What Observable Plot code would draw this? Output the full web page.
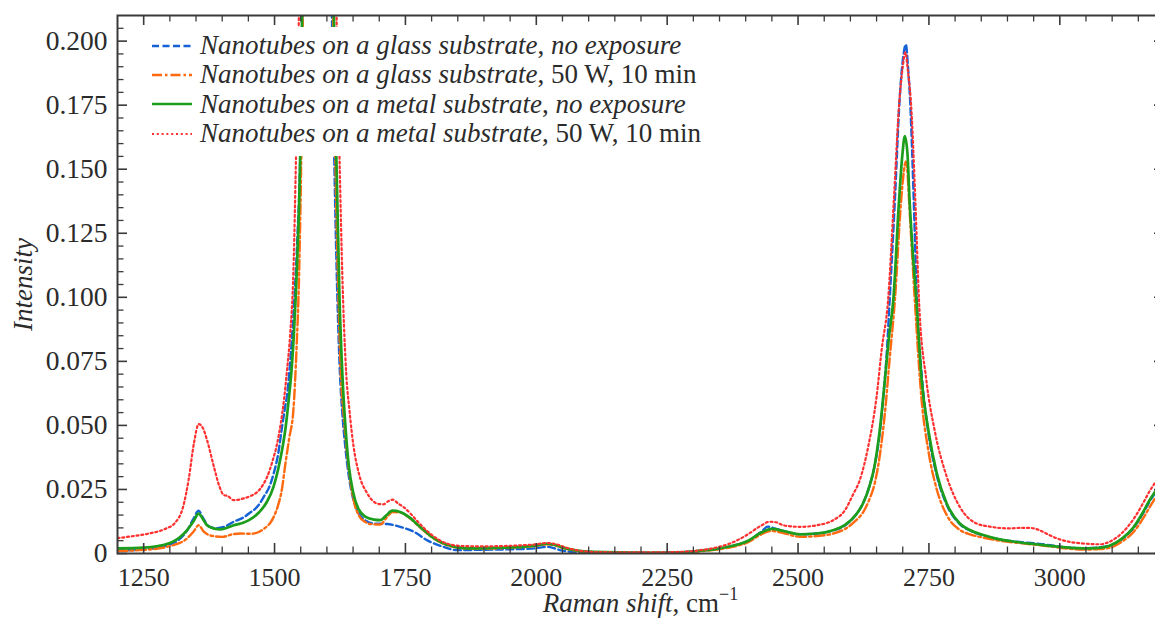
<!DOCTYPE html>
<html><head><meta charset="utf-8">
<script src="https://cdn.jsdelivr.net/npm/d3@7"></script>
<script src="https://cdn.jsdelivr.net/npm/@observablehq/plot@0.6"></script>
<style>
html,body{margin:0;padding:0;background:#fff;overflow:hidden;}
#wrap{position:relative;width:1155px;height:624px;overflow:hidden;font-family:'Liberation Serif','Tinos','Nimbus Roman','Times New Roman','DejaVu Serif',serif;color:#2b2b2b;}
#legend{position:absolute;left:146px;top:27px;background:#fff;padding:4px 10px 8px 6px;}
.row{height:29.3px;display:flex;align-items:center;font-size:27px;white-space:nowrap;line-height:1;}
.row svg{width:40px;height:10px;margin-right:8px;flex:none;}
#xlabel{position:absolute;top:590px;left:0;width:1281px;text-align:center;font-size:27px;line-height:1;white-space:nowrap;}
#xlabel sup{font-size:18px;vertical-align:12px;line-height:0;}
#chart svg text{font-family:'Liberation Serif','Tinos','Nimbus Roman','Times New Roman','DejaVu Serif',serif;}
</style></head>
<body><div id="wrap"><div id="chart"></div>
<div id="legend"></div>
<div id="xlabel"><i>Raman shift</i>, cm<sup>−1</sup></div>
</div>
<script>
// ---- data ----
const glassNoExpX = [1200,1250,1300,1333,1345,1355,1363,1375,1390,1405,1422,1440,1451,1470,1479,1490,1498,1507,1514,1520,1524,1531,1538,1544,1549,1555,1583,1607,1614,1620,1625,1629,1635,1642,1650,1660,1670,1689,1715,1740,1766,1791,1823,1848,1880,1940,1990,2010,2022,2035,2050,2080,2200,2270,2310,2345,2375,2405,2430,2442,2455,2472,2504,2535,2567,2590,2610,2624,2636,2646,2656,2664,2670,2675,2685,2694,2701,2706,2710,2714,2721,2727,2737,2749,2765,2784,2809,2830,2854,2885,2917,2950,2981,3010,3045,3075,3095,3120,3140,3160,3172,3185,3200];
const glassNoExpY = [0.0012,0.0016,0.0035,0.0090,0.0135,0.0167,0.0140,0.0105,0.0099,0.0105,0.0124,0.0140,0.0156,0.0190,0.0220,0.0260,0.0310,0.0390,0.0490,0.0570,0.0620,0.0780,0.1000,0.1250,0.1550,0.2500,0.9000,0.2500,0.1550,0.1000,0.0700,0.0560,0.0420,0.0300,0.0215,0.0160,0.0135,0.0117,0.0115,0.0104,0.0085,0.0052,0.0026,0.0013,0.0014,0.0016,0.0019,0.0024,0.0026,0.0020,0.0011,0.0006,0.0003,0.0004,0.0010,0.0018,0.0030,0.0050,0.0085,0.0105,0.0098,0.0088,0.0075,0.0078,0.0090,0.0110,0.0150,0.0195,0.0260,0.0340,0.0470,0.0640,0.0800,0.0990,0.1380,0.1772,0.1940,0.1987,0.1900,0.1772,0.1380,0.0990,0.0680,0.0470,0.0305,0.0190,0.0115,0.0088,0.0070,0.0055,0.0046,0.0040,0.0032,0.0024,0.0021,0.0024,0.0030,0.0058,0.0098,0.0160,0.0205,0.0245,0.0295];

const glass50WX = [1200,1250,1300,1333,1345,1355,1365,1378,1400,1420,1435,1455,1470,1482,1492,1500,1507,1514,1520,1528,1536,1542,1547,1551,1556,1583,1609,1616,1622,1627,1632,1638,1645,1652,1662,1672,1683,1702,1714,1725,1740,1755,1778,1800,1820,1845,1875,1920,1960,2000,2020,2035,2050,2075,2110,2200,2270,2310,2345,2375,2405,2430,2450,2472,2504,2535,2567,2590,2610,2624,2636,2646,2656,2666,2675,2685,2697,2702,2706,2709,2712,2717,2723,2736,2749,2765,2784,2809,2830,2854,2885,2917,2950,2981,3010,3045,3075,3095,3120,3140,3160,3172,3185,3200];
const glass50WY = [0.0010,0.0014,0.0029,0.0059,0.0085,0.0110,0.0085,0.0070,0.0065,0.0075,0.0078,0.0077,0.0084,0.0100,0.0120,0.0150,0.0190,0.0250,0.0340,0.0450,0.0560,0.0800,0.1100,0.1550,0.2500,0.9000,0.2500,0.1550,0.1000,0.0680,0.0540,0.0400,0.0280,0.0200,0.0145,0.0125,0.0115,0.0113,0.0140,0.0162,0.0160,0.0143,0.0102,0.0064,0.0040,0.0024,0.0019,0.0020,0.0023,0.0030,0.0036,0.0032,0.0022,0.0011,0.0005,0.0002,0.0003,0.0008,0.0015,0.0026,0.0044,0.0075,0.0088,0.0080,0.0065,0.0068,0.0078,0.0096,0.0128,0.0160,0.0210,0.0270,0.0380,0.0550,0.0760,0.0990,0.1380,0.1490,0.1530,0.1490,0.1380,0.1200,0.0990,0.0600,0.0400,0.0250,0.0150,0.0092,0.0074,0.0062,0.0050,0.0042,0.0035,0.0028,0.0020,0.0015,0.0017,0.0022,0.0048,0.0082,0.0140,0.0182,0.0225,0.0275];

const metalNoExpX = [1200,1250,1300,1333,1345,1355,1363,1371,1385,1397,1422,1440,1451,1470,1485,1498,1507,1514,1521,1527,1533,1537,1543,1549,1555,1583,1610,1618,1624,1630,1636,1642,1650,1660,1675,1690,1702,1713,1725,1740,1755,1778,1800,1820,1845,1875,1920,1960,2000,2020,2035,2050,2075,2110,2200,2270,2310,2345,2375,2405,2430,2450,2472,2504,2535,2567,2590,2610,2624,2636,2646,2656,2666,2674,2682,2693,2699,2704,2709,2713,2720,2726,2736,2749,2765,2784,2809,2830,2854,2885,2917,2950,2981,3010,3045,3075,3095,3120,3140,3160,3172,3185,3200];
const metalNoExpY = [0.0020,0.0023,0.0041,0.0091,0.0125,0.0156,0.0135,0.0110,0.0097,0.0094,0.0110,0.0120,0.0130,0.0160,0.0200,0.0260,0.0330,0.0400,0.0490,0.0600,0.0730,0.0860,0.1130,0.1550,0.2500,0.9000,0.2500,0.1550,0.1000,0.0680,0.0480,0.0340,0.0240,0.0175,0.0142,0.0132,0.0130,0.0148,0.0167,0.0162,0.0145,0.0104,0.0066,0.0042,0.0026,0.0020,0.0022,0.0025,0.0032,0.0038,0.0034,0.0024,0.0012,0.0006,0.0003,0.0004,0.0010,0.0018,0.0030,0.0050,0.0082,0.0096,0.0088,0.0075,0.0078,0.0091,0.0112,0.0150,0.0195,0.0260,0.0340,0.0480,0.0680,0.0850,0.0990,0.1380,0.1550,0.1629,0.1560,0.1380,0.1150,0.0990,0.0680,0.0480,0.0313,0.0195,0.0117,0.0090,0.0072,0.0055,0.0045,0.0037,0.0030,0.0024,0.0020,0.0022,0.0030,0.0060,0.0100,0.0165,0.0210,0.0250,0.0300];

const metal50WX = [1200,1230,1260,1290,1310,1325,1336,1346,1355,1363,1371,1384,1395,1403,1410,1422,1441,1455,1467,1477,1486,1496,1505,1512,1518,1524,1530,1536,1541,1550,1583,1615,1624,1630,1637,1643,1651,1661,1677,1696,1708,1718,1726,1736,1746,1760,1771,1797,1829,1860,1900,1950,2000,2020,2040,2055,2080,2110,2200,2270,2310,2345,2370,2402,2428,2446,2458,2472,2504,2535,2567,2590,2605,2618,2634,2650,2660,2672,2683,2693,2700,2705,2710,2716,2724,2731,2745,2761,2784,2809,2841,2866,2904,2925,2943,2960,2980,3000,3020,3045,3077,3095,3109,3130,3146,3160,3172,3185,3200];
const metal50WY = [0.0060,0.0068,0.0078,0.0095,0.0120,0.0180,0.0290,0.0430,0.0505,0.0490,0.0443,0.0340,0.0260,0.0228,0.0225,0.0208,0.0215,0.0225,0.0240,0.0265,0.0300,0.0360,0.0430,0.0510,0.0600,0.0720,0.0860,0.1100,0.1550,0.2500,0.9000,0.2500,0.1550,0.1050,0.0700,0.0560,0.0417,0.0313,0.0235,0.0195,0.0192,0.0205,0.0210,0.0195,0.0182,0.0155,0.0130,0.0078,0.0039,0.0029,0.0028,0.0030,0.0036,0.0041,0.0035,0.0024,0.0012,0.0006,0.0004,0.0006,0.0012,0.0024,0.0039,0.0072,0.0107,0.0124,0.0122,0.0110,0.0104,0.0110,0.0130,0.0170,0.0230,0.0287,0.0417,0.0612,0.0800,0.0990,0.1380,0.1750,0.1900,0.1956,0.1880,0.1750,0.1380,0.0990,0.0678,0.0480,0.0300,0.0182,0.0117,0.0105,0.0098,0.0100,0.0100,0.0092,0.0072,0.0055,0.0045,0.0039,0.0036,0.0046,0.0063,0.0105,0.0150,0.0200,0.0245,0.0285,0.0335];

const seriesNames = [
  ["Nanotubes on a glass substrate", "no exposure", true],
  ["Nanotubes on a glass substrate", "50 W, 10 min", false],
  ["Nanotubes on a metal substrate", "no exposure", true],
  ["Nanotubes on a metal substrate", "50 W, 10 min", false]
];
const xMajorTicks = [1250,1500,1750,2000,2250,2500,2750,3000];
const yMajorTicks = [0,0.025,0.05,0.075,0.1,0.125,0.15,0.175,0.2];
const xMinorTicks = d3.range(1250,3200,50).filter(v => v % 250 !== 0);
const yMinorTicks = d3.range(1,42).map(i => i*0.005).filter((v,i) => (i+1) % 5 !== 0);

// ---- styles ----
const serif = "'Liberation Serif','Tinos','Nimbus Roman','Times New Roman','DejaVu Serif',serif";
const styles = [
  {stroke:"#1562d6", dash:"7,3.5", w:2.4},
  {stroke:"#ff6a10", dash:"10,3,2.5,3", w:2.4},
  {stroke:"#1c9e1c", dash:null, w:2.7},
  {stroke:"#ff3030", dash:"2,2.8", w:2.2}
];
const seriesData = [
  [glassNoExpX, glassNoExpY],
  [glass50WX, glass50WY],
  [metalNoExpX, metalNoExpY],
  [metal50WX, metal50WY]
].map(([xs, ys]) => xs.map((x, i) => ({x, y: ys[i]})));

const W = 1166, H = 624, mL = 117, mR = 2, mT = 15, mB = 71;
const innerW = W - mL - mR, innerH = H - mT - mB;
const axisColor = "#3a3a3a";

const lineMarks = seriesData.map((d, i) => Plot.line(d, {
  x: "x", y: "y", stroke: styles[i].stroke, strokeWidth: styles[i].w,
  strokeDasharray: styles[i].dash || undefined, curve: "monotone-x", clip: true
}));

const chart = Plot.plot({
  width: W, height: H,
  marginLeft: mL, marginRight: mR, marginTop: mT, marginBottom: mB,
  style: {fontFamily: serif, fontSize: "26px", color: "#2b2b2b", maxWidth: "none", background: "#fff"},
  x: {domain: [1200, 3200]},
  y: {domain: [0, 0.21]},
  marks: [
    ...lineMarks,
    Plot.ruleX(xMajorTicks, {insetTop: innerH - 10, stroke: axisColor, strokeWidth: 1.6}),
    Plot.ruleX(xMinorTicks, {insetTop: innerH - 6.5, stroke: axisColor, strokeWidth: 1.3}),
    Plot.ruleX(xMajorTicks, {insetBottom: innerH - 10, stroke: axisColor, strokeWidth: 1.6}),
    Plot.ruleX(xMinorTicks, {insetBottom: innerH - 6.5, stroke: axisColor, strokeWidth: 1.3}),
    Plot.ruleY(yMajorTicks, {insetRight: innerW - 10, stroke: axisColor, strokeWidth: 1.6}),
    Plot.ruleY(yMinorTicks, {insetRight: innerW - 6.5, stroke: axisColor, strokeWidth: 1.3}),
    Plot.ruleY(yMajorTicks, {insetLeft: innerW - 10, stroke: axisColor, strokeWidth: 1.6}),
    Plot.ruleY(yMinorTicks, {insetLeft: innerW - 6.5, stroke: axisColor, strokeWidth: 1.3}),
    Plot.frame({stroke: axisColor, strokeWidth: 2}),
    Plot.axisX(xMajorTicks, {tickSize: 0, tickPadding: 14, tickFormat: d => String(d), label: null, fontFamily: serif, fontSize: 26}),
    Plot.axisY(yMajorTicks, {tickSize: 0, tickPadding: 10, tickFormat: d => d === 0 ? "0" : d.toFixed(3), label: null, fontFamily: serif, fontSize: 27.5}),
    Plot.text(["Intensity"], {text: d => d, frameAnchor: "left", textAnchor: "middle", dx: -94, rotate: -90, fontStyle: "italic", fontSize: 27, fontFamily: serif, fill: "#2b2b2b"})
  ]
});
document.getElementById("chart").appendChild(chart);

// ---- legend ----
const legend = document.getElementById("legend");
seriesNames.forEach(([name, cond, italicCond], i) => {
  const s = styles[i];
  const row = document.createElement("div");
  row.className = "row";
  row.innerHTML = `<svg viewBox="0 0 40 10"><line x1="0" x2="40" y1="5" y2="5" stroke="${s.stroke}" stroke-width="${s.w}" ${s.dash ? `stroke-dasharray="${s.dash}"` : ""}/></svg>` +
    `<span><i>${name}</i>, ${italicCond ? `<i>${cond}</i>` : cond}</span>`;
  legend.appendChild(row);
});
</script>
</body></html>
